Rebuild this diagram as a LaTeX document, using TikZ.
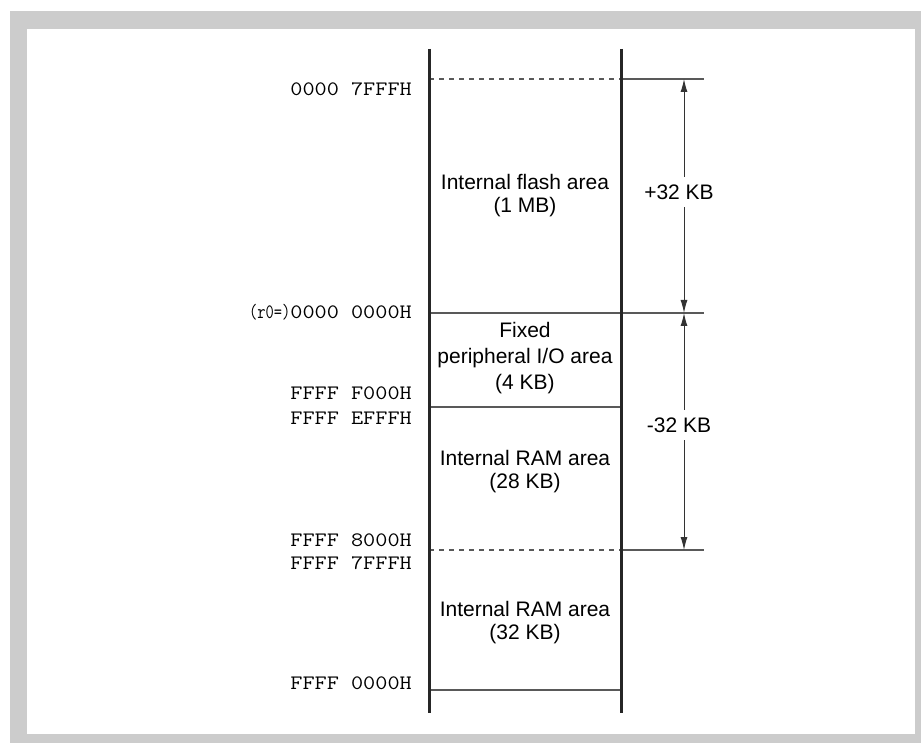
\documentclass[tikz,border=0pt]{standalone}
\usepackage{fontspec}
\setmainfont{Liberation Sans}
\usepackage{graphicx}
\usepackage{tikz}
\usetikzlibrary{arrows.meta}

% typewriter addresses, spread out a bit
\newcommand{\addrtext}[1]{\scalebox{1.15}[1]{#1}}

\tikzset{
  wall/.style={line width=3pt, black!85},
  bound/.style={line width=1.3pt, black!65},
  dashbound/.style={bound, dash pattern=on 5pt off 5pt},
  dimarrow/.style={line width=1pt, black!80, {Latex[length=13pt,width=7pt]}-{Latex[length=13pt,width=7pt]}},
  addr/.style={anchor=base east, inner sep=0pt, font=\fontsize{20.5}{24}\selectfont\ttfamily},
  area/.style={align=center, inner sep=0pt, font=\fontsize{21}{23}\selectfont},
  sizelabel/.style={fill=white, inner xsep=2pt, inner ysep=8pt, font=\fontsize{21}{23}\selectfont},
}

\begin{document}
\begin{tikzpicture}[x=1pt,y=-1pt]
	\useasboundingbox (0,0) rectangle (921,743);
	\fill[black!20] (10,11) rectangle (921,743);
	\fill[white] (27,29) rectangle (915,734);
	
	% boundaries of the areas
	\coordinate (top-l) at (429,79);
	\coordinate (top-r) at (621,79);
	\coordinate (top-e) at (704,79);
	\coordinate (zero-l) at (429,313);
	\coordinate (zero-e) at (704,313);
	\coordinate (io-l) at (429,407);
	\coordinate (io-r) at (621,407);
	\coordinate (mid-l) at (429,550);
	\coordinate (mid-r) at (621,550);
	\coordinate (mid-e) at (704,550);
	\coordinate (bot-l) at (429,690);
	\coordinate (bot-r) at (621,690);
	
	\draw[dashbound] (top-l) -- (top-r);
	\draw[bound] (top-r) -- (top-e);
	\draw[bound] (zero-l) -- (zero-e);
	\draw[bound] (io-l) -- (io-r);
	\draw[dashbound] (mid-l) -- (mid-r);
	\draw[bound] (mid-r) -- (mid-e);
	\draw[bound] (bot-l) -- (bot-r);
	
	% the map itself
	\coordinate (wall-lt) at (429,49);
	\coordinate (wall-lb) at (429,713);
	\coordinate (wall-rt) at (621,49);
	\coordinate (wall-rb) at (621,713);
	\draw[wall] (wall-lt) -- (wall-lb);
	\draw[wall] (wall-rt) -- (wall-rb);
	
	% reach of r0
	\coordinate (dim-top) at (684,79);
	\coordinate (dim-zero) at (684,313);
	\coordinate (dim-mid) at (684,550);
	\draw[dimarrow] (dim-top) -- (dim-zero);
	\draw[dimarrow] (dim-zero) -- (dim-mid);
	\node[sizelabel] (plus) at (679,192) {+32 KB};
	\node[sizelabel] (minus) at (679,425) {-32 KB};
	
	\node[area] (flash) at (525,195.5) {Internal flash area\\(1 MB)};
	\node[area, font=\fontsize{21}{26}\selectfont] (fixedio) at (525,358.5) {Fixed\\peripheral I/O area\\(4 KB)};
	\node[area] (ramlow) at (525,472) {Internal RAM area\\(28 KB)};
	\node[area] (ramhigh) at (525,623) {Internal RAM area\\(32 KB)};
	
	% addresses
	\node[addr] (a7fff) at (412,96) {\addrtext{0000 7FFFH}};
	\node[addr] (azero) at (412,319) {\scalebox{0.78}[1]{(r0=)}\addrtext{0000 0000H}};
	\node[addr] (af000) at (412,399) {\addrtext{FFFF F000H}};
	\node[addr] (aefff) at (412,424) {\addrtext{FFFF EFFFH}};
	\node[addr] (a8000) at (412,546) {\addrtext{FFFF 8000H}};
	\node[addr] (a7fffl) at (412,569) {\addrtext{FFFF 7FFFH}};
	\node[addr] (a0000) at (412,689) {\addrtext{FFFF 0000H}};
\end{tikzpicture}
\end{document}
